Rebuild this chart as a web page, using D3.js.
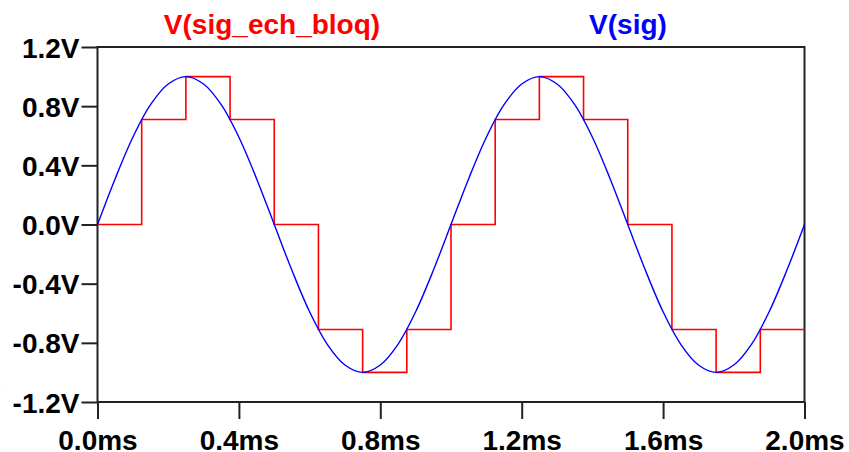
<!DOCTYPE html>
<meta charset="utf-8">
<style>
body { margin: 0; background: #fff; }
text { font-family: "Liberation Sans", Arial, sans-serif; font-weight: bold; }
</style>
<svg width="849" height="452"></svg>
<script src="https://cdn.jsdelivr.net/npm/d3@7"></script>
<script>

// time axis (ms) and labels
var xTicks = [0, 0.4, 0.8, 1.2, 1.6, 2.0];
var xTickLabels = ["0.0ms", "0.4ms", "0.8ms", "1.2ms", "1.6ms", "2.0ms"];
var yTicks = [1.2, 0.8, 0.4, 0.0, -0.4, -0.8, -1.2];
var yTickLabels = ["1.2V", "0.8V", "0.4V", "0.0V", "-0.4V", "-0.8V", "-1.2V"];

// V(sig), read every 0.05ms
var sigTime = [0, 0.05, 0.1, 0.15, 0.2, 0.25, 0.3, 0.35, 0.4, 0.45, 0.5,
  0.55, 0.6, 0.65, 0.7, 0.75, 0.8, 0.85, 0.9, 0.95, 1.0,
  1.05, 1.1, 1.15, 1.2, 1.25, 1.3, 1.35, 1.4, 1.45, 1.5,
  1.55, 1.6, 1.65, 1.7, 1.75, 1.8, 1.85, 1.9, 1.95, 2.0];
var sigValue = [0, 0.31, 0.59, 0.81, 0.95, 1.0, 0.95, 0.81, 0.59, 0.31, 0,
  -0.31, -0.59, -0.81, -0.95, -1.0, -0.95, -0.81, -0.59, -0.31, 0,
  0.31, 0.59, 0.81, 0.95, 1.0, 0.95, 0.81, 0.59, 0.31, 0,
  -0.31, -0.59, -0.81, -0.95, -1.0, -0.95, -0.81, -0.59, -0.31, 0];

// V(sig_ech_bloq), sample-and-hold steps
var echTime = [0, 0.125, 0.25, 0.375, 0.5, 0.625, 0.75, 0.875,
  1.0, 1.125, 1.25, 1.375, 1.5, 1.625, 1.75, 1.875, 2.0];
var echValue = [0, 0.71, 1.0, 0.71, 0, -0.71, -1.0, -0.71,
  0, 0.71, 1.0, 0.71, 0, -0.71, -1.0, -0.71, -0.71];

var svg = d3.select("svg");
var plotLeft = 97.5, plotRight = 804.5, plotTop = 47, plotBottom = 402;

var x = d3.scaleLinear().domain([0, 2.0]).range([plotLeft, plotRight]);
var y = d3.scaleLinear().domain([-1.2, 1.2]).range([plotBottom, plotTop]);

// y axis ticks and labels
var yAxis = svg.append("g")
    .attr("transform", "translate(" + plotLeft + ",0)")
    .call(d3.axisLeft(y).tickValues(yTicks)
      .tickFormat(function(d, i) { return yTickLabels[i]; })
      .tickSize(16).tickPadding(2));

// x axis ticks and labels
var xAxis = svg.append("g")
    .attr("transform", "translate(0," + plotBottom + ")")
    .call(d3.axisBottom(x).tickValues(xTicks)
      .tickFormat(function(d, i) { return xTickLabels[i]; })
      .tickSize(17).tickPadding(6));

svg.selectAll(".domain").remove();
svg.selectAll(".tick line").attr("stroke", "#222").attr("stroke-width", 2);
svg.selectAll(".tick text")
    .attr("fill", "#000")
    .style("font-size", "28px");
yAxis.selectAll(".tick text").attr("dy", "0.36em");
xAxis.selectAll(".tick text").attr("dy", "0.9em");

// plot frame
svg.append("rect")
    .attr("x", plotLeft).attr("y", plotTop)
    .attr("width", plotRight - plotLeft).attr("height", plotBottom - plotTop)
    .attr("fill", "none")
    .attr("stroke", "#222")
    .attr("stroke-width", 2);

// sampled signal
var echLine = d3.line()
    .x(function(d, i) { return x(echTime[i]); })
    .y(function(d) { return y(d); })
    .curve(d3.curveStepAfter);

svg.append("path")
    .attr("d", echLine(echValue))
    .attr("fill", "none")
    .attr("stroke", "#ff0000")
    .attr("stroke-width", 1.6);

// original sine
var sigLine = d3.line()
    .x(function(d, i) { return x(sigTime[i]); })
    .y(function(d) { return y(d); })
    .curve(d3.curveCatmullRom);

svg.append("path")
    .attr("d", sigLine(sigValue))
    .attr("fill", "none")
    .attr("stroke", "#0000ff")
    .attr("stroke-width", 1.4);

// trace names
svg.append("text")
    .attr("x", 272).attr("y", 34)
    .attr("text-anchor", "middle")
    .attr("fill", "#ff0000")
    .style("font-size", "28px")
    .text("V(sig_ech_bloq)");

svg.append("text")
    .attr("x", 628).attr("y", 34)
    .attr("text-anchor", "middle")
    .attr("fill", "#0000ff")
    .style("font-size", "28px")
    .text("V(sig)");

// cut-off glyph at the left edge
svg.append("text")
    .attr("x", -4).attr("y", 393)
    .attr("fill", "#d08000")
    .style("font-size", "14px")
    .style("font-weight", "normal")
    .text(")");

</script>
